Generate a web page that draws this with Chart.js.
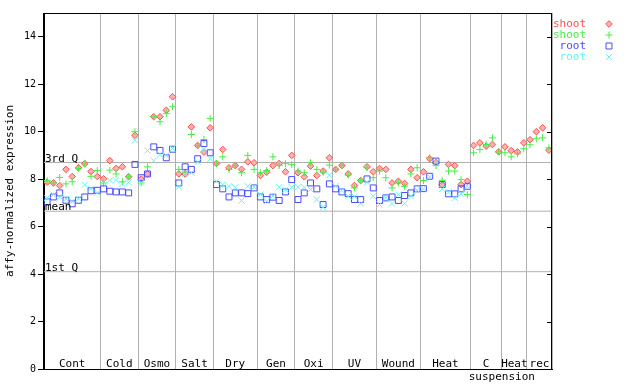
<!DOCTYPE html>
<html>
<head>
<meta charset="utf-8">
<script src="https://cdn.jsdelivr.net/npm/chart.js@4.4.1/dist/chart.umd.min.js"></script>
<style>
html,body{margin:0;padding:0;background:#fff;}
#wrap{width:640px;height:384px;}
</style>
</head>
<body>
<div id="wrap"><canvas id="c" width="640" height="384"></canvas></div>
<script>
// ---- data ----
const groupNames  = ["Cont","Cold","Osmo","Salt","Dry","Gen","Oxi","UV","Wound","Heat","C","Heat","rec"];
const groupCounts = [9,6,6,6,7,6,6,7,7,8,5,4,4];
const subLabel = "suspension";
const yTicks = [0,2,4,6,8,10,12,14];
const quartiles = {q3: 8.70, mean: 6.65, q1: 4.10};
const seriesNames = ["shoot","shoot","root","root"];

const shootA = [
  7.87,7.84,7.73,8.41,8.11,8.48,8.65,8.32,8.11,
  8.01,8.78,8.45,8.52,8.10,9.85,
  8.00,8.22,10.63,10.63,10.90,11.47,
  8.22,8.22,10.20,9.42,9.14,10.16,
  8.66,9.25,8.48,8.57,8.41,8.73,8.69,
  8.15,8.29,8.57,8.66,8.31,9.00,
  8.27,8.10,8.55,8.15,8.34,8.90,
  8.41,8.57,8.22,7.73,7.94,8.52,8.31,
  8.45,8.41,7.84,7.91,7.82,8.41,8.06,
  8.31,8.86,8.70,7.76,8.62,8.57,7.77,7.91,
  9.42,9.53,9.39,9.46,9.15,
  9.36,9.20,9.15,9.53,
  9.66,10.00,10.16,9.22
];
const shootB = [
  7.94,7.84,8.07,7.80,7.89,8.45,8.65,8.12,8.36,
  7.84,8.38,8.22,7.89,8.10,10.00,
  7.84,8.52,10.63,10.42,10.77,11.05,
  8.41,8.30,9.88,9.42,9.67,10.56,
  8.66,8.94,8.41,8.57,8.27,9.00,8.41,
  8.27,8.36,8.94,8.57,8.65,8.62,
  8.34,8.27,8.69,8.41,8.29,8.59,
  8.41,8.57,8.17,7.63,7.94,8.48,8.06,
  8.34,8.06,7.63,7.84,7.70,8.22,8.48,
  7.94,8.90,8.57,7.95,8.34,8.34,7.98,7.35,
  9.11,9.25,9.46,9.74,9.15,
  9.11,8.94,9.07,9.28,
  9.45,9.70,9.74,9.32
];
const rootA = [
  7.04,7.25,7.42,7.11,6.96,7.11,7.25,7.51,7.53,
  7.59,7.49,7.46,7.46,7.42,8.62,
  8.06,8.22,9.36,9.21,8.90,9.26,
  7.84,8.52,8.41,8.86,9.50,9.11,
  7.77,7.59,7.25,7.42,7.42,7.39,7.63,
  7.25,7.14,7.24,7.10,7.46,7.98,
  7.14,7.42,7.84,7.59,6.93,7.80,
  7.59,7.46,7.39,7.14,7.14,8.01,7.63,
  7.10,7.21,7.25,7.10,7.31,7.42,7.59,
  7.60,8.12,8.76,7.77,7.38,7.38,7.59,7.70,
  null,null,null,null,null,
  null,null,null,null,
  null,null,null,null
];
const rootB = [
  7.21,7.35,7.25,7.17,7.06,7.17,7.76,7.60,7.42,
  7.87,7.95,7.95,7.80,7.87,9.64,
  7.85,9.21,8.78,9.04,9.00,9.29,
  7.68,8.20,8.27,8.72,9.25,8.86,
  7.91,7.77,7.70,7.66,7.10,7.70,7.66,
  7.35,7.07,7.28,7.66,7.55,7.66,
  7.66,7.66,7.56,7.14,6.82,8.17,
  7.70,7.52,7.28,7.28,6.97,7.87,7.28,
  6.93,7.21,6.97,7.35,6.97,7.28,7.53,
  7.59,8.10,8.70,7.59,7.45,7.21,7.38,7.70,
  null,null,null,null,null,
  null,null,null,null,
  null,null,null,null
];

// ---- derived ----
const nSamples = groupCounts.reduce((a,b)=>a+b,0);
const bounds = [0];
groupCounts.forEach(c => bounds.push(bounds[bounds.length-1] + c));
const toPts = arr => arr.map((v,i) => ({x: i + 0.5, y: v}));
const hline = v => [{x: 0, y: v}, {x: nSamples, y: v}];

const RED = '#ff4d4d', GREEN = '#44f044', BLUE = '#4a4aff', CYAN = '#5ff5f5', GRAY = '#b0b0b0';
const FONT = '"DejaVu Sans Mono", monospace';

const styles = [
  {pointStyle:'rectRot', radius:3.3, borderColor:RED, backgroundColor:'#ffb0b0'},
  {pointStyle:'cross', radius:3.5, borderColor:GREEN, backgroundColor:GREEN},
  {pointStyle:'rect', radius:4.2, borderColor:BLUE, backgroundColor:'rgba(0,0,0,0)'},
  {pointStyle:'crossRot', radius:4.3, borderColor:CYAN, backgroundColor:CYAN}
];
const seriesData = [shootA, shootB, rootA, rootB];

const datasets = [];
['q3','mean','q1'].forEach(k => datasets.push({
  type:'line', data: hline(quartiles[k]), borderColor: GRAY, borderWidth: 1,
  pointRadius: 0, fill: false, yAxisID: 'y', order: 10
}));
seriesData.forEach((arr, i) => datasets.push({
  type:'scatter', label: seriesNames[i], data: toPts(arr),
  pointStyle: styles[i].pointStyle, pointRadius: styles[i].radius,
  pointBorderColor: styles[i].borderColor, pointBackgroundColor: styles[i].backgroundColor,
  pointBorderWidth: 1, showLine: false, yAxisID: 'y', order: 5 - i
}));

const decor = {
  id: 'decor',
  afterDraw(chart) {
    const ctx = chart.ctx, a = chart.chartArea;
    const xs = chart.scales.x, ys = chart.scales.y;
    ctx.save();
    // quartile labels
    ctx.fillStyle = '#000';
    ctx.font = '11px ' + FONT;
    ctx.textAlign = 'left';
    ctx.textBaseline = 'alphabetic';
    [['3rd Q', quartiles.q3], ['mean', quartiles.mean], ['1st Q', quartiles.q1]].forEach(([t, v]) => {
      ctx.fillText(t, a.left + 1, Math.round(ys.getPixelForValue(v)) - 1);
    });
    // group labels
    ctx.textAlign = 'center';
    ctx.textBaseline = 'middle';
    groupNames.forEach((g, i) => {
      const cx = xs.getPixelForValue((bounds[i] + bounds[i+1]) / 2);
      ctx.fillText(g, cx, a.bottom - 5);
    });
    const sx = xs.getPixelForValue(bounds[11]);
    ctx.fillText(subLabel, sx, a.bottom + 8);
    // frame
    ctx.strokeStyle = '#000';
    ctx.lineWidth = 1;
    ctx.strokeRect(Math.round(a.left) - 0.5, Math.round(a.top) + 0.5, Math.round(a.right - a.left), Math.round(a.bottom - a.top));
    // inner ticks on right side
    ctx.beginPath();
    yTicks.forEach(v => {
      const py = Math.round(ys.getPixelForValue(v)) + 0.5;
      ctx.moveTo(a.right - 5, py); ctx.lineTo(a.right, py);
    });
    ctx.stroke();
    // legend
    ctx.textAlign = 'right';
    ctx.textBaseline = 'middle';
    const rows = [24, 35, 46, 57];
    seriesNames.forEach((n, i) => {
      ctx.fillStyle = styles[i].borderColor;
      ctx.fillText(n, 586, rows[i]);
      const opt = {pointStyle: styles[i].pointStyle, radius: styles[i].radius, borderWidth: 1, rotation: 0};
      ctx.strokeStyle = styles[i].borderColor;
      ctx.fillStyle = styles[i].backgroundColor;
      ctx.lineWidth = 1;
      if (Chart.helpers && Chart.helpers.drawPoint) Chart.helpers.drawPoint(ctx, opt, 609, rows[i]);
    });
    ctx.restore();
  }
};

new Chart(document.getElementById('c'), {
  data: { datasets },
  options: {
    responsive: false,
    animation: false,
    devicePixelRatio: 1,
    layout: { padding: { top: 13, left: 0, right: 0, bottom: 0 } },
    plugins: { legend: { display: false }, tooltip: { enabled: false } },
    scales: {
      x: {
        type: 'linear', min: 0, max: nSamples, position: 'bottom',
        afterBuildTicks: s => { s.ticks = bounds.map(v => ({value: v})); },
        afterFit: s => { s.height = 15; },
        ticks: { display: false },
        grid: { color: GRAY, drawTicks: false, lineWidth: 1 },
        border: { display: true, color: '#000' }
      },
      y: {
        type: 'linear', min: 0, max: 15, position: 'left',
        afterBuildTicks: s => { s.ticks = yTicks.map(v => ({value: v})); },
        afterFit: s => { s.width = 44; },
        ticks: { color: '#000', font: { family: FONT, size: 10 }, padding: 2 },
        grid: { drawOnChartArea: false, drawTicks: true, tickLength: 6, color: '#000' },
        border: { display: true, color: '#000' },
        title: { display: true, text: 'affy-normalized expression', color: '#000',
                 font: { family: FONT, size: 11 }, padding: { top: 4, bottom: 0 } }
      },
      y2: {
        type: 'linear', min: 0, max: 15, position: 'right',
        afterFit: s => { s.width = 88; },
        ticks: { display: false },
        grid: { display: false },
        border: { display: false }
      }
    }
  },
  plugins: [decor]
});
</script>
</body>
</html>
